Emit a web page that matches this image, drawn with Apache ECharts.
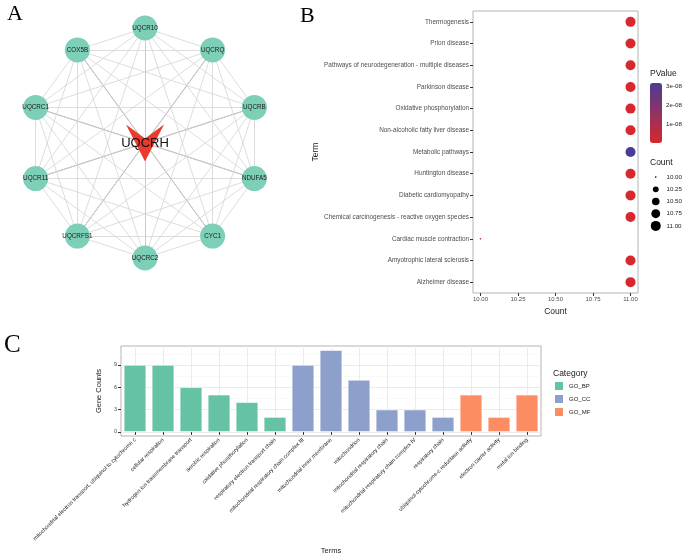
<!DOCTYPE html>
<html><head><meta charset="utf-8">
<script src="https://cdn.jsdelivr.net/npm/echarts@6/dist/echarts.min.js"></script>
<style>html,body{margin:0;padding:0;background:#fff}#chart{width:685px;height:557px}</style>
</head><body><div id="chart"></div>
<script>
const FONT = "'Liberation Sans', Arial, sans-serif";
const SERIF = "'Liberation Serif', 'DejaVu Serif', serif";

// ---------- Panel A : PPI network ----------
const hubGene = 'UQCRH';
const ringGenes = ['UQCR10', 'UQCRQ', 'UQCRB', 'NDUFA5', 'CYC1', 'UQCRC2', 'UQCRFS1', 'UQCR11', 'UQCRC1', 'COX5B'];
const geneInteractions = {
  UQCRH:   ['UQCR10', 'UQCRQ', 'UQCRB', 'NDUFA5', 'CYC1', 'UQCRC2', 'UQCRFS1', 'UQCR11', 'UQCRC1', 'COX5B'],
  UQCR10:  ['UQCRQ', 'UQCRB', 'NDUFA5', 'CYC1', 'UQCRC2', 'UQCRFS1', 'UQCR11', 'UQCRC1', 'COX5B'],
  UQCRQ:   ['UQCRB', 'NDUFA5', 'CYC1', 'UQCRC2', 'UQCRFS1', 'UQCR11', 'UQCRC1', 'COX5B'],
  UQCRB:   ['NDUFA5', 'CYC1', 'UQCRC2', 'UQCRFS1', 'UQCR11', 'UQCRC1', 'COX5B'],
  NDUFA5:  ['CYC1', 'UQCRC2', 'UQCRFS1', 'UQCR11', 'UQCRC1', 'COX5B'],
  CYC1:    ['UQCRC2', 'UQCRFS1', 'UQCR11', 'UQCRC1', 'COX5B'],
  UQCRC2:  ['UQCRFS1', 'UQCR11', 'UQCRC1', 'COX5B'],
  UQCRFS1: ['UQCR11', 'UQCRC1', 'COX5B'],
  UQCR11:  ['UQCRC1', 'COX5B'],
  UQCRC1:  ['COX5B']
};

// ---------- Panel B : KEGG dot plot ----------
const keggTerms = ['Alzheimer disease', 'Amyotrophic lateral sclerosis', 'Cardiac muscle contraction',
  'Chemical carcinogenesis - reactive oxygen species', 'Diabetic cardiomyopathy', 'Huntington disease',
  'Metabolic pathways', 'Non-alcoholic fatty liver disease', 'Oxidative phosphorylation', 'Parkinson disease',
  'Pathways of neurodegeneration - multiple diseases', 'Prion disease', 'Thermogenesis'];
const keggCounts = [11, 11, 10, 11, 11, 11, 11, 11, 11, 11, 11, 11, 11];
const keggPValues = [6.2e-12, 4.8e-12, 9.5e-11, 7.1e-12, 8.4e-12, 6.5e-12, 3.15e-8, 3.9e-12, 2.2e-13, 5.6e-12, 1.4e-11, 9.8e-12, 2.6e-12];
const countTicks = [10, 10.25, 10.5, 10.75, 11];
const countLegendValues = [10, 10.25, 10.5, 10.75, 11];
const pvalueTicks = [1e-8, 2e-8, 3e-8];

// ---------- Panel C : GO bar chart ----------
const goTerms = ['mitochondrial electron transport, ubiquinol to cytochrome c', 'cellular respiration',
  'hydrogen ion transmembrane transport', 'aerobic respiration', 'oxidative phosphorylation',
  'respiratory electron transport chain', 'mitochondrial respiratory chain complex III',
  'mitochondrial inner membrane', 'mitochondrion', 'mitochondrial respiratory chain',
  'mitochondrial respiratory chain complex IV', 'respiratory chain',
  'ubiquinol-cytochrome-c reductase activity', 'electron carrier activity', 'metal ion binding'];
const goCounts = [9, 9, 6, 5, 4, 2, 9, 11, 7, 3, 3, 2, 5, 2, 5];
const goCategory = ['GO_BP', 'GO_BP', 'GO_BP', 'GO_BP', 'GO_BP', 'GO_BP',
  'GO_CC', 'GO_CC', 'GO_CC', 'GO_CC', 'GO_CC', 'GO_CC', 'GO_MF', 'GO_MF', 'GO_MF'];
const goCategoryNames = ['GO_BP', 'GO_CC', 'GO_MF'];
const goColors = { GO_BP: '#66c2a5', GO_CC: '#8da0cb', GO_MF: '#fc8d62' };
const geneCountTicks = [0, 3, 6, 9];
const geneCountMinor = [1.5, 4.5, 7.5, 10.5];

// ---------- build ----------
const nodes = ringGenes.map((g, i) => ({
  name: g, value: [1, i * 360 / ringGenes.length],
  symbol: 'circle', symbolSize: 25, itemStyle: { color: '#7ecfb8' },
  label: { show: true, position: 'inside', fontSize: 6.3, color: '#1a1a1a', fontFamily: FONT }
}));
nodes.push({
  name: hubGene, value: [0, 0],
  symbol: 'path://M0,0 L50,38 L100,0 L50,100 Z', symbolSize: [38, 37],
  itemStyle: { color: '#ea3b2c' },
  label: { show: true, position: 'inside', fontSize: 13, color: '#111', fontFamily: FONT }
});
const links = [];
Object.keys(geneInteractions).forEach(src => {
  geneInteractions[src].forEach(tgt => {
    const hub = src === hubGene;
    links.push({ source: src, target: tgt,
      lineStyle: { color: hub ? '#a0a0a0' : '#d4d4d4', width: hub ? 1 : 0.8, opacity: 1, curveness: 0 } });
  });
});

const countToSize = c => 10 * (1 + 5 * Math.sqrt(Math.max(0, c - 10) / (11 - 10))) / 6;
const keggData = keggTerms.map((t, i) => [keggCounts[i], t, keggPValues[i]]);

const barSeries = goCategoryNames.map(cat => ({
  type: 'bar', name: cat, xAxisIndex: 3, yAxisIndex: 3,
  barGap: '-100%', barCategoryGap: '20%',
  itemStyle: { color: goColors[cat], borderColor: '#ffffff', borderWidth: 0.6 },
  data: goCounts.map((v, i) => goCategory[i] === cat ? v : null)
}));

const axisTxt = { fontFamily: FONT, color: '#4d4d4d', fontSize: 6.4 };
const titleTxt = { fontFamily: FONT, color: '#1a1a1a', fontSize: 8.5, fontWeight: 'normal' };

const option = {
  animation: false,
  backgroundColor: '#ffffff',
  title: [
    { text: 'A', left: 7, top: 3, padding: 0, textStyle: { fontFamily: SERIF, fontSize: 22, fontWeight: 'normal', color: '#000' } },
    { text: 'B', left: 300, top: 5, padding: 0, textStyle: { fontFamily: SERIF, fontSize: 22, fontWeight: 'normal', color: '#000' } },
    { text: 'C', left: 4, top: 333, padding: 0, textStyle: { fontFamily: SERIF, fontSize: 25, fontWeight: 'normal', color: '#000' } },
    { text: 'PValue', left: 650, top: 69, padding: 0, textStyle: titleTxt },
    { text: 'Count', left: 650, top: 158, padding: 0, textStyle: titleTxt },
    { text: 'Category', left: 553, top: 369, padding: 0, textStyle: titleTxt }
  ],
  polar: { center: [145, 143], radius: 115 },
  angleAxis: { type: 'value', min: 0, max: 360, startAngle: 90, clockwise: true, show: false },
  radiusAxis: { type: 'value', min: 0, max: 1, show: false },
  grid: [
    { left: 473, right: 47, top: 11, bottom: 264, show: true, borderColor: '#b3b3b3', borderWidth: 1, backgroundColor: '#fff' },
    { left: 651, width: 10, top: 171, height: 61 },
    { left: 650, width: 12, top: 83, height: 60 },
    { left: 121, right: 144, top: 346, bottom: 121, show: true, borderColor: '#b3b3b3', borderWidth: 1, backgroundColor: '#fff' }
  ],
  xAxis: [
    { gridIndex: 0, type: 'value', min: 9.95, max: 11.05,
      name: 'Count', nameLocation: 'middle', nameGap: 13, nameTextStyle: titleTxt,
      axisLine: { show: false }, splitLine: { show: false },
      axisTick: { show: true, length: 3, customValues: countTicks, lineStyle: { color: '#333' } },
      axisLabel: Object.assign({ customValues: countTicks, margin: 3, formatter: v => v.toFixed(2) }, axisTxt, { fontSize: 6 }) },
    { gridIndex: 1, type: 'value', min: 0, max: 1, show: false },
    { gridIndex: 2, type: 'value', min: 0, max: 1, show: false },
    { gridIndex: 3, type: 'category', data: goTerms,
      name: 'Terms', nameLocation: 'middle', nameGap: 111, nameTextStyle: Object.assign({}, titleTxt, { fontSize: 7.5 }),
      axisLine: { show: false },
      axisTick: { show: true, alignWithLabel: true, length: 3, lineStyle: { color: '#333' } },
      splitLine: { show: true, alignWithLabel: true, lineStyle: { color: '#ebebeb', width: 1 } },
      axisLabel: { interval: 0, rotate: 45, fontSize: 5.5, color: '#1a1a1a', fontFamily: FONT, margin: 3 } }
  ],
  yAxis: [
    { gridIndex: 0, type: 'category', data: keggTerms,
      name: 'Term', nameLocation: 'middle', nameGap: 150, nameRotate: 90, nameTextStyle: titleTxt,
      axisLine: { show: false }, splitLine: { show: false },
      axisTick: { show: true, alignWithLabel: true, length: 3, lineStyle: { color: '#333' } },
      axisLabel: Object.assign({ interval: 0, margin: 4 }, axisTxt) },
    { gridIndex: 1, type: 'category', data: countLegendValues.map(v => v.toFixed(2)), inverse: true, position: 'right',
      axisLine: { show: false }, axisTick: { show: false }, splitLine: { show: false },
      axisLabel: { margin: 6, fontSize: 6.2, color: '#1a1a1a', fontFamily: FONT } },
    { gridIndex: 2, type: 'value', min: 0, max: 3.16e-8, position: 'right',
      axisLine: { show: false }, splitLine: { show: false },
      axisTick: { show: true, inside: true, length: 2.5, customValues: pvalueTicks, lineStyle: { color: '#ffffff', width: 1 } },
      axisLabel: { customValues: pvalueTicks, margin: 4, fontSize: 6.2, color: '#1a1a1a', fontFamily: FONT,
        formatter: v => Math.round(v * 1e8) + 'e-08' } },
    { gridIndex: 3, type: 'value', min: -0.55, max: 11.55,
      name: 'Gene Counts', nameLocation: 'middle', nameGap: 14, nameRotate: 90, nameTextStyle: Object.assign({}, titleTxt, { fontSize: 7.5 }),
      axisLine: { show: false },
      axisTick: { show: true, length: 3, customValues: geneCountTicks, lineStyle: { color: '#333' } },
      splitLine: { show: true, lineStyle: { color: '#ebebeb', width: 1 } },
      axisLabel: Object.assign({ customValues: geneCountTicks, margin: 4 }, axisTxt, { fontSize: 5.5 }) },
    { gridIndex: 3, type: 'value', min: -0.55, max: 11.55,
      axisLine: { show: false }, axisLabel: { show: false },
      axisTick: { show: false, customValues: geneCountMinor },
      splitLine: { show: true, lineStyle: { color: '#f5f5f5', width: 0.6 } } }
  ],
  visualMap: [{
    type: 'continuous', seriesIndex: 1, dimension: 2, min: 0, max: 3.16e-8,
    calculable: false, hoverLink: false, orient: 'vertical', left: 650, top: 83,
    itemWidth: 12, itemHeight: 60, padding: 0,
    inRange: { color: ['#d7282d', '#4b3c97'], opacity: 1 }
  }],
  legend: {
    data: goCategoryNames, orient: 'vertical', left: 553, top: 380, padding: 0,
    itemWidth: 10, itemHeight: 10, itemGap: 1, icon: 'rect',
    textStyle: { fontSize: 6, color: '#1a1a1a', fontFamily: FONT }
  },
  series: [
    { type: 'graph', coordinateSystem: 'polar', polarIndex: 0, layout: 'none',
      data: nodes, links: links, roam: false, z: 2,
      emphasis: { disabled: true } },
    { type: 'scatter', xAxisIndex: 0, yAxisIndex: 0, data: keggData,
      itemStyle: { opacity: 1 },
      symbolSize: v => countToSize(v[0]) },
    { type: 'scatter', xAxisIndex: 1, yAxisIndex: 1,
      data: countLegendValues.map(v => [0.5, v.toFixed(2), v]),
      symbolSize: v => countToSize(v[2]), itemStyle: { color: '#000', opacity: 1 } }
  ].concat(barSeries)
};

const chart = echarts.init(document.getElementById('chart'), null, { renderer: 'canvas' });
chart.setOption(option);
</script>
</body></html>
